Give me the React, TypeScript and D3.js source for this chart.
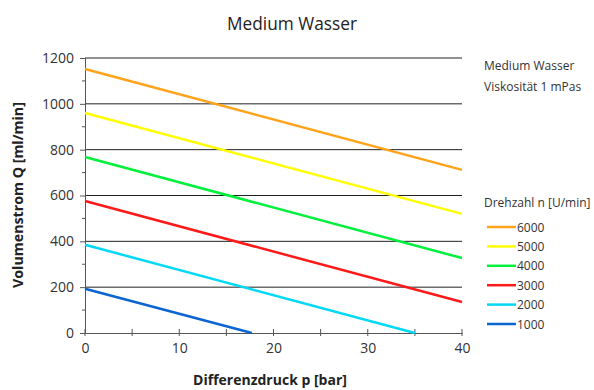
import { useEffect, useRef } from "react";
import * as d3 from "d3";

// Differenzdruck p [bar] / Volumenstrom Q [ml/min], one line per speed
const speeds = ["6000", "5000", "4000", "3000", "2000", "1000"];
const colors = ["#ffa31a", "#ffff00", "#00f03c", "#ff1a1a", "#00d9f5", "#0a64d2"];
const pressures = [
  [0, 40],
  [0, 40],
  [0, 40],
  [0, 40],
  [0, 35.0],
  [0, 17.7],
];
const flows = [
  [1152, 712],
  [960, 520],
  [768, 327],
  [576, 135],
  [385, 0],
  [193, 0],
];
const xTicks = [0, 10, 20, 30, 40];
const yTicks = [0, 200, 400, 600, 800, 1000, 1200];

const FONT = "'Open Sans', sans-serif";

// shrink/grow font so a text hits a given width
function fitWidth(sel: d3.Selection<SVGTextElement, unknown, null, undefined>, target: number) {
  const node = sel.node();
  if (!node) return;
  const fs = parseFloat(sel.attr("font-size"));
  const w = node.getComputedTextLength();
  if (w > 0) sel.attr("font-size", (fs * target) / w);
}

function renderChart(element: SVGSVGElement) {
  const margin = { top: 58, left: 85 };
  const width = 377,
    height = 275;

  const svg = d3.select(element);
  svg.selectAll("*").remove();
  svg.attr("font-family", FONT).attr("fill", "#333");

  const x = d3.scaleLinear().domain([0, 40]).range([0, width]);
  const y = d3.scaleLinear().domain([0, 1200]).range([height, 0]);

  const g = svg
    .append("g")
    .attr("transform", `translate(${margin.left},${margin.top})`);

  // grid lines
  g.selectAll("line.grid")
    .data(yTicks.filter((d) => d > 0))
    .join("line")
    .attr("x1", 0)
    .attr("x2", width)
    .attr("y1", (d) => y(d))
    .attr("y2", (d) => y(d))
    .attr("stroke", "#222")
    .attr("stroke-width", 1);

  // Y axis
  const yAxis = g
    .append("g")
    .call(
      d3
        .axisLeft(y)
        .tickValues(yTicks)
        .tickFormat(d3.format("d"))
        .tickSize(5)
        .tickPadding(6)
    );
  yAxis.select(".domain").attr("stroke", "#555");
  yAxis.selectAll(".tick line").attr("stroke", "#555");
  yAxis
    .selectAll("text")
    .attr("font-size", 14)
    .attr("fill", "#333")
    .attr("font-family", FONT);
  // minor ticks
  g.append("g")
    .selectAll("line")
    .data(d3.range(100, 1200, 200))
    .join("line")
    .attr("x1", -3)
    .attr("x2", 0)
    .attr("y1", (d) => y(d))
    .attr("y2", (d) => y(d))
    .attr("stroke", "#555");

  // X axis
  const xAxis = g
    .append("g")
    .attr("transform", `translate(0,${height})`)
    .call(d3.axisBottom(x).tickValues(xTicks).tickSize(0).tickPadding(10));
  xAxis.select(".domain").attr("stroke", "#555");
  xAxis
    .selectAll("text")
    .attr("font-size", 14)
    .attr("fill", "#333")
    .attr("font-family", FONT);
  g.append("g")
    .selectAll("line")
    .data(d3.range(0, 41, 5))
    .join("line")
    .attr("x1", (d) => x(d))
    .attr("x2", (d) => x(d))
    .attr("y1", height - 4)
    .attr("y2", height + 3)
    .attr("stroke", "#555");

  // lines
  const line = d3
    .line<[number, number]>()
    .x((d) => x(d[0]))
    .y((d) => y(d[1]));

  speeds.forEach((s, i) => {
    const pts = pressures[i].map((p, j) => [p, flows[i][j]] as [number, number]);
    g.append("path")
      .attr("d", line(pts))
      .attr("fill", "none")
      .attr("stroke", colors[i])
      .attr("stroke-width", 2.5);
  });

  // titles
  const title = svg
    .append("text")
    .attr("x", 292)
    .attr("y", 30)
    .attr("text-anchor", "middle")
    .attr("font-size", 18)
    .attr("fill", "#222")
    .text("Medium Wasser");
  fitWidth(title, 130);

  const xTitle = svg
    .append("text")
    .attr("x", 270)
    .attr("y", 385)
    .attr("text-anchor", "middle")
    .attr("font-size", 13)
    .attr("font-weight", "bold")
    .attr("fill", "#222")
    .text("Differenzdruck p [bar]");
  fitWidth(xTitle, 154);

  const yTitle = svg
    .append("text")
    .attr("transform", `translate(23,195) rotate(-90)`)
    .attr("text-anchor", "middle")
    .attr("font-size", 13)
    .attr("font-weight", "bold")
    .attr("fill", "#222")
    .text("Volumenstrom Q [ml/min]");
  fitWidth(yTitle, 186);

  // side notes
  const notes = svg.append("g").attr("font-size", 12).attr("fill", "#333");
  notes.append("text").attr("x", 484).attr("y", 70).text("Medium Wasser");
  notes.append("text").attr("x", 484).attr("y", 91).text("Viskosität 1 mPas");
  notes.append("text").attr("x", 484).attr("y", 207).text("Drehzahl n [U/min]");

  // legend
  const legend = svg
    .append("g")
    .selectAll("g")
    .data(speeds)
    .join("g")
    .attr("transform", (_, i) => `translate(487,${227 + i * 19.4})`);
  legend
    .append("line")
    .attr("x1", 0)
    .attr("x2", 29)
    .attr("stroke", (_, i) => colors[i])
    .attr("stroke-width", 2.5);
  legend
    .append("text")
    .attr("x", 30)
    .attr("y", 4.5)
    .attr("font-size", 12)
    .attr("fill", "#333")
    .text((d) => d);
}

export default function App() {
  const ref = useRef<SVGSVGElement>(null);
  useEffect(() => {
    if (ref.current) renderChart(ref.current);
  }, []);
  return (
    <svg
      ref={ref}
      width={594}
      height={390}
      style={{ position: "absolute", left: 0, top: 0, background: "#fff" }}
    />
  );
}
